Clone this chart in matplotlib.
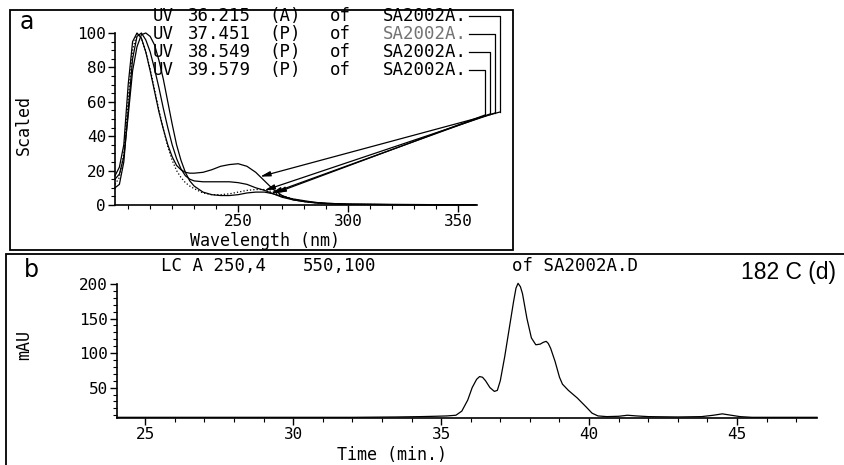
import numpy as np
import matplotlib.pyplot as plt
from matplotlib.patches import Rectangle

W, H = 845, 465
MONO = 'DejaVu Sans Mono'
FS = 12.5      # header rows
FS_TICK = 11.5
FS_LAB = 12

# ---- panel a: UV spectra (scaled) ----
wavelength = [194, 196, 198, 200, 202, 204, 206, 208, 210, 212, 214, 216, 218, 220,
              222, 224, 226, 228, 230, 234, 238, 242, 246, 250, 254, 258, 262, 266,
              270, 275, 280, 285, 290, 300, 320, 340, 358]
uv_36215 = [17, 22, 35, 70, 95, 100, 97, 89, 78, 66, 54, 44, 35, 28,
            23, 20.5, 19, 18.5, 18.5, 19, 20.5, 22.5, 23.5, 24, 22.5, 19, 14, 9,
            5.5, 3, 2, 1.5, 1, 0.5, 0.3, 0.2, 0.2]
uv_37451 = [10, 12, 25, 55, 85, 98, 100, 96, 89, 79, 68, 56, 45, 35,
            27, 21, 17, 15, 14, 13.5, 13.5, 13.5, 13.5, 13, 12, 10, 8.5, 6.5,
            4.5, 3, 2, 1.2, 0.8, 0.4, 0.2, 0.1, 0.1]
uv_38549 = [15, 18, 28, 52, 78, 92, 99, 100, 98, 93, 84, 73, 60, 47,
            35, 26, 19, 14, 11, 7.5, 6, 5.5, 5.5, 6, 7, 7.5, 7.5, 6.5,
            5, 3.5, 2.5, 1.5, 1, 0.5, 0.3, 0.2, 0.2]
uv_39579 = [12, 16, 30, 62, 90, 100, 97, 89, 79, 67, 55, 44, 34, 26,
            20, 16, 13, 11, 9.5, 7, 6, 6, 6.5, 7.5, 8.5, 9, 9, 7.5,
            5.5, 3.5, 2, 1.3, 0.8, 0.4, 0.2, 0.2, 0.2]
spectra = [uv_36215, uv_37451, uv_38549, uv_39579]
spec_times = ['36.215', '37.451', '38.549', '39.579']
spec_kind = ['(A)', '(P)', '(P)', '(P)']
spec_styles = ['-', '-', '-', ':']
pointer_wl = [260, 262, 265, 267]

# ---- panel b: chromatogram ----
time_min = [24.05, 26, 28, 30, 32, 33.5, 34.3, 34.8, 35.2, 35.5, 35.7, 35.9, 36.05, 36.2,
            36.3, 36.4, 36.5, 36.65, 36.8, 36.9, 37.0, 37.15, 37.3, 37.45, 37.53, 37.6,
            37.68, 37.75, 37.9, 38.05, 38.2, 38.35, 38.45, 38.55, 38.62, 38.7, 38.85, 39.0,
            39.1, 39.3, 39.6, 39.9, 40.1, 40.3, 40.6, 41.0, 41.3, 41.6, 42.0, 43.0, 43.8,
            44.2, 44.5, 44.8, 45.1, 45.5, 47.7]
mau = [7, 7, 7, 7, 7, 7.5, 8, 8.5, 9, 10, 16, 32, 50, 62,
       66, 65, 60, 50, 44.5, 46, 60, 95, 135, 175, 194, 201,
       196, 186, 150, 122, 112, 113, 115.5, 117, 114, 107, 88, 65,
       55, 46, 35, 22, 13, 9, 8, 8.5, 10, 9, 8, 7.5, 8,
       10, 12, 10, 8, 7, 7]


def fx(x):
    return x / W


def fy(y):
    return 1 - y / H


def to_data(ax, x, y):
    # pixel position (from top-left) -> data coords of ax
    return ax.transData.inverted().transform((x, H - y))


def mono(x, y, s, size=FS, **kw):
    kw.setdefault('ha', 'center')
    return fig.text(fx(x), fy(y), s, family=MONO, fontsize=size, va='center', **kw)


fig = plt.figure(figsize=(W / 100, H / 100), dpi=100)
renderer = fig.canvas.get_renderer()

# frames around the two panels
fig.patches.append(Rectangle((fx(10), fy(250)), 503 / W, 240 / H, transform=fig.transFigure,
                             fill=False, lw=1.3, ec='black'))
fig.patches.append(Rectangle((fx(6), fy(490)), 900 / W, 236 / H, transform=fig.transFigure,
                             fill=False, lw=1.3, ec='black'))

ax1 = fig.add_axes([fx(115), fy(205), 362 / W, 172 / H])
ax2 = fig.add_axes([fx(117), fy(418), 700 / W, 134 / H])

for ax in (ax1, ax2):
    ax.spines[['top', 'right']].set_visible(False)
    ax.spines[['left', 'bottom']].set_linewidth(1.2)
    ax.set_facecolor('none')
    ax.tick_params(which='major', direction='out', length=5, width=1, pad=1.5,
                   labelsize=FS_TICK, labelfontfamily=MONO)
    ax.tick_params(which='minor', direction='out', length=3, width=0.8)

# panel a
for vals, ls in zip(spectra, spec_styles):
    ax1.plot(wavelength, vals, color='black', lw=0.9, ls=ls, clip_on=False)
ax1.set_xlim(194, 358.6)
ax1.set_ylim(0, 100)
ax1.set_xticks([250, 300, 350])
ax1.set_xticks(np.arange(200, 360, 10), minor=True)
ax1.set_yticks([0, 20, 40, 60, 80, 100])
ax1.set_yticks(np.arange(0, 101, 5), minor=True)

row_y = [16, 34, 52, 70]
brk_x = [500, 495, 490, 485]
brk_y = [112, 113, 114, 115]
for i in range(4):
    y = row_y[i]
    mono(163, y, 'UV')
    mono(219, y, spec_times[i])
    mono(285, y, spec_kind[i])
    mono(340, y, 'of')
    t = mono(425, y, 'SA2002A.', color='0.45' if i == 1 else 'black')
    x_end = t.get_window_extent(renderer).x1 + 2
    p0 = ax1.transData.inverted().transform((x_end, H - y))
    p1 = to_data(ax1, brk_x[i], y)
    p2 = to_data(ax1, brk_x[i], brk_y[i])
    ax1.plot([p0[0], p1[0], p2[0]], [p0[1], p1[1], p2[1]], color='black', lw=0.9, clip_on=False)
    tip = (pointer_wl[i], np.interp(pointer_wl[i], wavelength, spectra[i]))
    ax1.annotate('', xy=tip, xytext=tuple(p2), annotation_clip=False,
                 arrowprops=dict(arrowstyle='-|>,head_length=0.6,head_width=0.15',
                                 color='black', lw=0.9, shrinkA=0, shrinkB=0))

fig.text(fx(27), fy(22), 'a', fontsize=17, ha='center', va='center')
fig.text(fx(24), fy(125), 'Scaled', family=MONO, fontsize=FS_LAB, rotation=90,
         ha='center', va='center')
mono(265, 241, 'Wavelength (nm)', size=FS_LAB)

# panel b
ax2.plot(time_min, mau, color='black', lw=0.9, clip_on=False)
ax2.set_xlim(24.05, 47.7)
ax2.set_ylim(6, 200)
ax2.set_xticks([25, 30, 35, 40, 45])
ax2.set_xticks(np.arange(25, 48, 1), minor=True)
ax2.set_yticks([50, 100, 150, 200])
ax2.set_yticks(np.arange(10, 201, 10), minor=True)

fig.text(fx(31), fy(270), 'b', fontsize=17, ha='center', va='center')
mono(214, 266, 'LC A 250,4')
mono(340, 266, '550,100')
mono(575, 266, 'of SA2002A.D')
fig.text(fx(789), fy(272), '182 C (d)', family=['Liberation Sans', 'DejaVu Sans'],
         fontsize=16.5, ha='center', va='center')
fig.text(fx(24), fy(345), 'mAU', family=MONO, fontsize=FS_LAB, rotation=90,
         ha='center', va='center')
mono(392, 455, 'Time (min.)', size=FS_LAB)

fig.savefig('out.png', dpi=100)
